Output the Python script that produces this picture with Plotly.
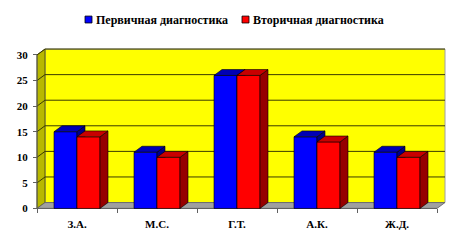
import plotly.graph_objects as go

categories = ["З.А.", "М.С.", "Г.Т.", "А.К.", "Ж.Д."]
primary = [15, 11, 26, 14, 11]
secondary = [14, 10, 26, 13, 10]
series_names = ["Первичная диагностика", "Вторичная диагностика"]
y_ticks = [0, 5, 10, 15, 20, 25, 30]

W, H = 467, 242
PXX = 80.0          # px per category unit
PXY = 5.2           # px per y unit
X0PIX = 77.0        # pixel of category 0
Y0PIX = 211.0       # pixel of y=0
XR = [-0.55, 4.65]
YR = [-0.5, 31.75]
ml = X0PIX + XR[0] * PXX
mr = W - (X0PIX + XR[1] * PXX)
mt = Y0PIX - YR[1] * PXY
mb = H - (Y0PIX - YR[0] * PXY)
pw = (XR[1] - XR[0]) * PXX
ph = (YR[1] - YR[0]) * PXY

DX = 8 / PXX
DY = 6 / PXY
BW = 0.2875
YMAX = 30
xl, xr = -0.5, len(categories) - 0.5

def px_x(p):
    return (p - ml) / pw

def px_y(p):
    return (H - mb - p) / ph

font = "Liberation Serif, Times New Roman, serif"
xs = list(range(len(categories)))

shapes = []
# back wall
shapes.append(dict(type="rect", xref="x", yref="y", x0=xl + DX, x1=xr + DX, y0=DY, y1=YMAX + DY,
                   fillcolor="#ffff00", line=dict(color="#a0a0a0", width=1), layer="below"))
# side wall
shapes.append(dict(type="path", xref="x", yref="y",
                   path=f"M{xl},0 L{xl+DX},{DY} L{xl+DX},{YMAX+DY} L{xl},{YMAX} Z",
                   fillcolor="#b8b800", line=dict(color="#404000", width=0.8), layer="below"))
# floor
shapes.append(dict(type="path", xref="x", yref="y",
                   path=f"M{xl},0 L{xr},0 L{xr+DX},{DY} L{xl+DX},{DY} Z",
                   fillcolor="#a0a0a0", line=dict(color="#606060", width=0.8), layer="below"))
# gridlines
for v in y_ticks[1:]:
    shapes.append(dict(type="path", xref="x", yref="y",
                       path=f"M{xl},{v} L{xl+DX},{v+DY} L{xr+DX},{v+DY}",
                       line=dict(color="#3a3a00", width=1), layer="below"))
# front axes lines
shapes.append(dict(type="line", xref="x", yref="y", x0=xl, x1=xl, y0=0, y1=YMAX,
                   line=dict(color="#606060", width=1), layer="below"))
shapes.append(dict(type="line", xref="x", yref="y", x0=xl, x1=xr, y0=0, y1=0,
                   line=dict(color="#606060", width=1), layer="below"))

def faces(vals, off):
    top_x, top_y, side_x, side_y = [], [], [], []
    for c, v in zip(xs, vals):
        a, b = c + off, c + off + BW
        top_x += [a, b, b + DX, a + DX, a, None]
        top_y += [v, v, v + DY, v + DY, v, None]
        side_x += [b, b + DX, b + DX, b, b, None]
        side_y += [0, DY, v + DY, v, 0, None]
    return top_x, top_y, side_x, side_y

fig = go.Figure()
specs = [(primary, -BW, "#0000ff", "#0000b4", "#00008c", "x", "y"),
         (secondary, 0.0, "#ff0000", "#c80000", "#960000", "x2", "y2")]
for (vals, off, fc, tc, sc, xa, ya), name in zip(specs, series_names):
    fig.add_trace(go.Bar(x=xs, y=vals, width=BW, offset=off, name=name,
                         marker=dict(color=fc, line=dict(color="#000000", width=0.6)),
                         xaxis=xa, yaxis=ya, showlegend=False))
    tx, ty, sx, sy = faces(vals, off)
    fig.add_trace(go.Scatter(x=sx, y=sy, fill="toself", fillcolor=sc, mode="lines",
                             line=dict(color="#000000", width=0.6), xaxis=xa, yaxis=ya,
                             showlegend=False, hoverinfo="skip"))
    fig.add_trace(go.Scatter(x=tx, y=ty, fill="toself", fillcolor=tc, mode="lines",
                             line=dict(color="#000000", width=0.6), xaxis=xa, yaxis=ya,
                             showlegend=False, hoverinfo="skip"))

# manual legend
leg = [(85, series_names[0], "#0000ff"), (242, series_names[1], "#ff0000")]
annotations = []
for lx, name, col in leg:
    shapes.append(dict(type="rect", xref="paper", yref="paper",
                       x0=px_x(lx), x1=px_x(lx + 7), y0=px_y(22.5), y1=px_y(15.5),
                       fillcolor=col, line=dict(color="#000000", width=0.8)))
    annotations.append(dict(xref="paper", yref="paper", x=px_x(lx + 8.5), y=px_y(19.5),
                            xanchor="left", yanchor="middle", showarrow=False, text=name,
                            font=dict(family=font, size=12, color="#000000", weight="bold")))

fig.update_layout(
    width=W, height=H,
    margin=dict(l=ml, r=mr, t=mt, b=mb, pad=0),
    paper_bgcolor="#ffffff", plot_bgcolor="rgba(0,0,0,0)",
    barmode="overlay", showlegend=False,
    shapes=shapes, annotations=annotations,
    xaxis=dict(range=XR, tickmode="array", tickvals=xs, ticktext=categories,
               ticks="outside", ticklen=5, tickcolor="rgba(0,0,0,0)",
               showgrid=False, zeroline=False, showline=False,
               anchor="free", position=px_y(Y0PIX),
               minor=dict(tickmode="array", tickvals=[i - 0.5 for i in range(len(categories) + 1)],
                          ticks="outside", ticklen=4, tickcolor="#606060", showgrid=False),
               tickfont=dict(family=font, size=11, color="#000000", weight="bold")),
    yaxis=dict(range=YR, tickmode="array", tickvals=y_ticks,
               ticks="outside", ticklen=4, tickcolor="#606060",
               showgrid=False, zeroline=False, showline=False,
               anchor="free", position=px_x(X0PIX + xl * PXX), ticklabelstandoff=3,
               tickfont=dict(family=font, size=11, color="#000000", weight="bold")),
    xaxis2=dict(range=XR, overlaying="x", visible=False, showgrid=False, zeroline=False),
    yaxis2=dict(range=YR, overlaying="y", visible=False, showgrid=False, zeroline=False),
)

fig.write_html("out.html")
